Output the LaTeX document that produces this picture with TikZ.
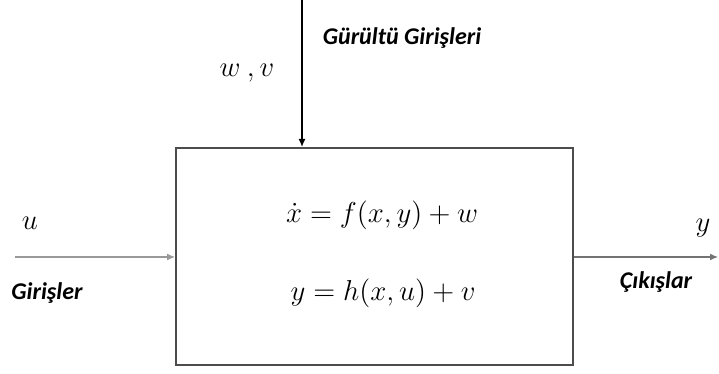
\documentclass[tikz,border=0pt]{standalone}
\usepackage{fontspec}
\newfontfamily\lblfont{Carlito}
\usetikzlibrary{arrows.meta}
\tikzset{
  lbl/.style={font=\lblfont\bfseries\itshape\fontsize{12}{14}\selectfont},
  sym/.style={font=\fontsize{15}{17}\selectfont},
  eqn/.style={font=\fontsize{14.5}{17}\selectfont}
}
\begin{document}
\begin{tikzpicture}[x=0.5pt,y=0.5pt,>={Latex[length=4pt,width=3.5pt]}]
	  \useasboundingbox (0,0) rectangle (719,374);
	  \node[draw=black!70,line width=1pt,minimum width=198.5pt,minimum height=108.5pt,inner sep=0pt] (sys) at (374.5,117.5) {};
	  \coordinate (nin) at (302,374);
	  \coordinate (uin) at (15,117);
	  \coordinate (yout) at (718,117);
	  \draw[->,line width=0.7pt] (nin) -- (nin |- sys.north);
	  \draw[->,black!40,line width=0.6pt] (uin) -- (uin -| sys.west);
	  \draw[->,black!55,line width=0.6pt] (sys.east |- uin) -- (yout);
	  \node[sym] (wv) at (247,301) {$w\:,v$};
	  \node[lbl] (noise) at (402,336) {Gürültü Girişleri};
	  \node[sym] (u) at (30,151) {$u$};
	  \node[lbl] (inputs) at (47,81) {Girişler};
	  \node[sym] (y) at (703,146) {$y$};
	  \node[lbl] (outputs) at (656,92) {Çıkışlar};
	  \node[eqn] (eq1) at (382,159) {$\dot{x} = f(x,y) + w$};
	  \node[eqn] (eq2) at (383,81) {$y = h(x,u) + v$};
	\end{tikzpicture}
\end{document}
